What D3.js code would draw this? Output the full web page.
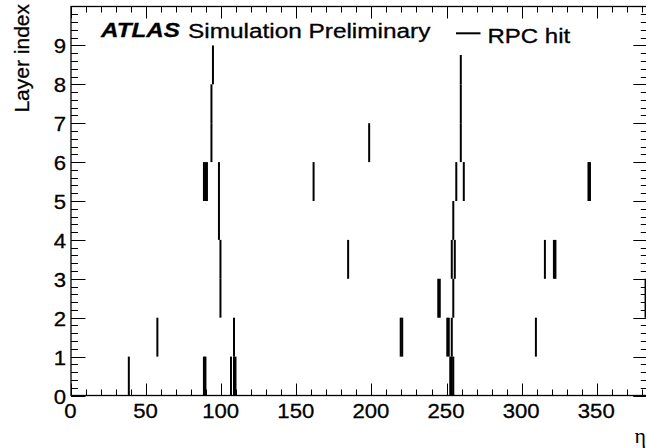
<!DOCTYPE html>
<html>
<head>
<meta charset="utf-8">
<script src="https://cdn.jsdelivr.net/npm/d3@7/dist/d3.min.js"></script>
<style>
  html, body { margin: 0; padding: 0; background: #fff; }
  svg { display: block; }
  text { font-family: "Liberation Sans", Arial, Helvetica, sans-serif; fill: #000; }
</style>
</head>
<body>
<svg id="chart" width="646" height="448"></svg>
<script>
// ---- data ----
const hitEta   = [38, 88, 89, 106, 108, 109, 252, 253, 254,
                  57, 108, 219, 220, 250, 251, 253, 309,
                  99, 244, 245, 254, 382,
                  99, 184, 253, 255, 315, 321, 322,
                  98, 254,
                  88, 89, 90, 98, 161, 256, 261, 344, 345,
                  93, 198, 259,
                  93, 259,
                  94, 259];
const hitLayer = [0, 0, 0, 0, 0, 0, 0, 0, 0,
                  1, 1, 1, 1, 1, 1, 1, 1,
                  2, 2, 2, 2, 2,
                  3, 3, 3, 3, 3, 3, 3,
                  4, 4,
                  5, 5, 5, 5, 5, 5, 5, 5, 5,
                  6, 6, 6,
                  7, 7,
                  8, 8];
const xTickLabels = [0, 50, 100, 150, 200, 250, 300, 350];
const yTickLabels = [0, 1, 2, 3, 4, 5, 6, 7, 8, 9];
const xTitle = "η";
const yTitle = "Layer index";
const legendLabel = "RPC hit";

// ---- layout ----
const svg = d3.select("#chart");
const x = d3.scaleLinear().domain([0, 384]).range([71, 647.8]);
const y = d3.scaleLinear().domain([0, 10]).range([395.5, 6.5]);
const [x0, x1] = x.range();
const [yb, yt] = y.range();

const hits = hitEta.map((e, i) => ({ eta: e, layer: hitLayer[i] }));

// hits
svg.append("g").selectAll("line").data(hits).join("line")
  .attr("x1", d => x(d.eta + 0.5)).attr("x2", d => x(d.eta + 0.5))
  .attr("y1", d => y(d.layer)).attr("y2", d => y(d.layer + 1))
  .attr("stroke", "#000").attr("stroke-width", 2);

// legend box (white fill, no border)
svg.append("rect").attr("x", 450).attr("y", 20).attr("width", 150).attr("height", 35)
  .attr("fill", "#fff");

// axes ticks
const g = svg.append("g").attr("stroke", "#000").attr("stroke-width", 1);
const xMinor = d3.range(0, 385, 10);
xMinor.forEach(v => {
  const major = v % 50 === 0;
  const len = major ? 12 : 6;
  const px = Math.round(x(v)) + 0.5;
  g.append("line").attr("x1", px).attr("x2", px).attr("y1", yb).attr("y2", yb - len);
  g.append("line").attr("x1", px).attr("x2", px).attr("y1", yt).attr("y2", yt + len);
});
const yMinor = d3.range(0, 50).map(i => i * 0.2);
yMinor.forEach((v, i) => {
  const major = i % 5 === 0;
  const len = major ? 14.5 : 7;
  const py = Math.round(y(v)) + 0.5;
  g.append("line").attr("x1", x0).attr("x2", x0 + len).attr("y1", py).attr("y2", py);
  g.append("line").attr("x1", x1).attr("x2", x1 - len).attr("y1", py).attr("y2", py);
});
// frame
svg.append("rect").attr("x", x0).attr("y", yt).attr("width", x1 - x0).attr("height", yb - yt)
  .attr("fill", "none").attr("stroke", "#000").attr("stroke-width", 1.3);

// text helper
function stext(txt, tx, ty, size, sx, anchor, extra) {
  const gg = svg.append("g").attr("transform", `translate(${tx},${ty}) scale(${sx},1)`);
  const t = gg.append("text").attr("x", 0).attr("y", 0).attr("font-size", size)
    .attr("text-anchor", anchor || "start")
    .attr("stroke", "#000").attr("stroke-width", 0.3)
    .text(txt);
  if (extra) extra(t);
  return t;
}
xTickLabels.forEach(v => stext(String(v), x(v) - 0.5, 418, 20.5, 1.08, "middle"));
yTickLabels.forEach(v => stext(String(v), 66, y(v) + 8, 20.5, 1.08, "end"));

// axis titles
svg.append("text").attr("transform", "translate(28.5,4) rotate(-90)")
  .attr("font-size", 21).attr("text-anchor", "end")
  .attr("stroke", "#000").attr("stroke-width", 0.3).text(yTitle);
svg.append("text").attr("x", 646).attr("y", 442.5).attr("font-size", 22)
  .attr("text-anchor", "end").style("font-family", "'Liberation Serif', 'DejaVu Serif', serif")
  .text(xTitle);

// ATLAS label
stext("ATLAS", 101, 37, 19.5, 1.24, "start", t => t.attr("font-weight", "bold").attr("font-style", "italic"));
stext("Simulation Preliminary", 188, 37.5, 19.5, 1.25, "start");

// legend
svg.append("rect").attr("x", 456).attr("y", 32.3).attr("width", 24.5).attr("height", 2)
  .attr("fill", "#000");
stext(legendLabel, 487.5, 43.3, 20, 1.2, "start");
</script>
</body>
</html>
